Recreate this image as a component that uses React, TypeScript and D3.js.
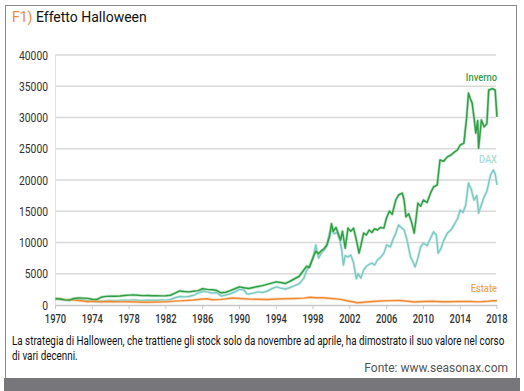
import { useEffect, useRef } from 'react';
import * as d3 from 'd3';

// [year, value]
const inverno: [number, number][] = [
  [1970.0, 1000], [1970.5, 950], [1971.0, 820], [1971.5, 780], [1972.0, 1050], [1972.5, 1120],
  [1973.0, 1100], [1973.5, 1060], [1974.0, 920], [1974.5, 880], [1975.0, 1250], [1975.5, 1380],
  [1976.0, 1420], [1976.5, 1400], [1977.0, 1450], [1977.5, 1520], [1978.0, 1580], [1978.5, 1620],
  [1979.0, 1550], [1979.5, 1500], [1980.0, 1520], [1980.5, 1480], [1981.0, 1500], [1981.5, 1460],
  [1982.0, 1480], [1982.5, 1560], [1983.0, 1900], [1983.5, 2250], [1984.0, 2150], [1984.5, 2100],
  [1985.0, 2200], [1985.5, 2300], [1986.0, 2600], [1986.5, 2500], [1987.0, 2450], [1987.5, 2350],
  [1988.0, 1950], [1988.5, 2050], [1989.0, 2300], [1989.5, 2600], [1990.0, 2900], [1990.5, 2750],
  [1991.0, 2650], [1991.5, 2800], [1992.0, 2950], [1992.5, 3100], [1993.0, 3300], [1993.5, 3500],
  [1994.0, 3700], [1994.5, 3600], [1995.0, 3450], [1995.5, 3800], [1996.0, 4200], [1996.5, 4600],
  [1997.0, 5600], [1997.3, 6200], [1997.6, 6000], [1998.0, 7600], [1998.3, 8600], [1998.6, 8200],
  [1998.9, 8700], [1999.2, 9000], [1999.5, 9600], [1999.8, 11000], [2000.0, 13000], [2000.2, 11800],
  [2000.5, 12400], [2000.8, 11200], [2001.0, 10400], [2001.2, 11800], [2001.5, 9100], [2001.8, 12300],
  [2002.1, 11800], [2002.4, 12300], [2002.7, 10500], [2003.0, 8300], [2003.2, 9500], [2003.5, 11500],
  [2003.8, 11200], [2004.1, 12000], [2004.4, 11600], [2004.7, 12200], [2005.0, 12000], [2005.3, 12400],
  [2005.7, 12300], [2006.0, 14000], [2006.3, 15000], [2006.6, 14500], [2007.0, 16800], [2007.3, 17600],
  [2007.7, 17900], [2007.9, 16800], [2008.1, 14100], [2008.4, 14600], [2008.7, 13300], [2009.0, 11500],
  [2009.2, 13800], [2009.4, 16300], [2009.7, 15800], [2010.0, 16800], [2010.4, 16400], [2010.8, 18000],
  [2011.1, 18900], [2011.5, 19200], [2011.8, 23200], [2012.2, 23000], [2012.6, 23700], [2013.0, 24000],
  [2013.4, 24500], [2013.7, 24800], [2014.0, 25600], [2014.4, 25900], [2014.7, 30000], [2014.9, 33900],
  [2015.1, 33000], [2015.3, 32300], [2015.5, 30000], [2015.7, 27500], [2015.9, 29500], [2016.0, 25100],
  [2016.3, 29600], [2016.6, 28500], [2016.9, 29000], [2017.1, 34400], [2017.5, 34600], [2017.8, 34400],
  [2018.0, 30100],
];

const dax: [number, number][] = [
  [1970.0, 950], [1970.5, 880], [1971.0, 800], [1971.5, 760], [1972.0, 880], [1972.5, 900],
  [1973.0, 820], [1973.5, 700], [1974.0, 580], [1974.5, 520], [1975.0, 620], [1975.5, 700],
  [1976.0, 720], [1976.5, 690], [1977.0, 720], [1977.5, 750], [1978.0, 780], [1978.5, 800],
  [1979.0, 760], [1979.5, 740], [1980.0, 760], [1980.5, 780], [1981.0, 760], [1981.5, 800],
  [1982.0, 780], [1982.5, 880], [1983.0, 1150], [1983.5, 1350], [1984.0, 1300], [1984.5, 1350],
  [1985.0, 1550], [1985.5, 1900], [1986.0, 2200], [1986.5, 2100], [1987.0, 1900], [1987.5, 2000],
  [1988.0, 1450], [1988.5, 1600], [1989.0, 1800], [1989.5, 2100], [1990.0, 2500], [1990.5, 2400],
  [1990.8, 1800], [1991.0, 1750], [1991.5, 1900], [1992.0, 2100], [1992.5, 2000], [1993.0, 2200],
  [1993.5, 2600], [1994.0, 2900], [1994.5, 2700], [1995.0, 2550], [1995.5, 2800], [1996.0, 3100],
  [1996.5, 3400], [1997.0, 4300], [1997.3, 5500], [1997.6, 6200], [1998.0, 7500], [1998.3, 9600],
  [1998.6, 7500], [1998.9, 8300], [1999.2, 8800], [1999.5, 9500], [1999.8, 11500], [2000.0, 12000],
  [2000.3, 11400], [2000.6, 11600], [2000.9, 10400], [2001.1, 9000], [2001.3, 6400], [2001.5, 7900],
  [2001.8, 7700], [2002.1, 8000], [2002.4, 6800], [2002.7, 4200], [2002.9, 5000], [2003.2, 4300],
  [2003.5, 5600], [2003.8, 6200], [2004.1, 6500], [2004.4, 6700], [2004.7, 6400], [2005.0, 7200],
  [2005.4, 7700], [2005.7, 8300], [2006.0, 9600], [2006.4, 9300], [2006.7, 10500], [2007.0, 11500],
  [2007.3, 12800], [2007.6, 12400], [2007.9, 12000], [2008.2, 10500], [2008.6, 7700], [2008.9, 6800],
  [2009.1, 6100], [2009.4, 7500], [2009.7, 9300], [2010.0, 9900], [2010.4, 9500], [2010.8, 10800],
  [2011.1, 11700], [2011.4, 11200], [2011.6, 8300], [2011.9, 9000], [2012.2, 10300], [2012.6, 11500],
  [2013.0, 12000], [2013.4, 13000], [2013.7, 13800], [2014.0, 15200], [2014.3, 14800], [2014.6, 16000],
  [2014.9, 19500], [2015.2, 18500], [2015.5, 16800], [2015.8, 17500], [2016.0, 14700], [2016.3, 16000],
  [2016.6, 17300], [2016.9, 18200], [2017.1, 19500], [2017.3, 20800], [2017.6, 21600], [2017.8, 21000],
  [2018.0, 19200],
];

const estate: [number, number][] = [
  [1970.0, 1070], [1971.0, 900], [1972.0, 800], [1973.0, 650], [1973.5, 530], [1974.0, 600],
  [1975.0, 520], [1976.0, 560], [1977.0, 500], [1978.0, 520], [1979.0, 480], [1980.0, 450],
  [1981.0, 470], [1982.0, 500], [1983.0, 620], [1984.0, 700], [1985.0, 800], [1985.7, 910],
  [1986.5, 1000], [1987.0, 850], [1988.0, 900], [1989.3, 1120], [1990.0, 1050], [1991.0, 950],
  [1991.9, 910], [1993.0, 880], [1994.0, 950], [1994.8, 1000], [1996.0, 1050], [1997.0, 1100],
  [1997.7, 1230], [1998.2, 1150], [1999.0, 1150], [2000.0, 1050], [2001.0, 900], [2001.7, 690],
  [2002.8, 370], [2003.5, 450], [2004.5, 560], [2005.3, 640], [2006.5, 700], [2007.5, 720],
  [2008.3, 600], [2009.0, 480], [2010.0, 550], [2011.0, 600], [2012.0, 520], [2012.6, 530],
  [2014.0, 560], [2015.0, 550], [2016.0, 500], [2017.0, 600], [2017.6, 690], [2018.0, 680],
];

const yTicks = [0, 5000, 10000, 15000, 20000, 25000, 30000, 35000, 40000];
const xTicks = [1970, 1974, 1978, 1982, 1986, 1990, 1994, 1998, 2002, 2006, 2010, 2014, 2018];

const captionLine1 = "La strategia di Halloween, che trattiene gli stock solo da novembre ad aprile, ha dimostrato il suo valore nel corso";
const captionLine2 = "di vari decenni.";

const sans = "'Roboto', 'Liberation Sans', sans-serif";

export default function App() {
  const ref = useRef<SVGSVGElement>(null);

  useEffect(() => {
    if (!ref.current) return;
    const svg = d3.select(ref.current);
    svg.selectAll('*').remove();

    const x = d3.scaleLinear().domain([1970, 2018]).range([55.5, 497]);
    const y = d3.scaleLinear().domain([0, 40000]).range([305, 55]);

    // frame
    svg.append('rect')
      .attr('x', 5.5).attr('y', 5.5)
      .attr('width', 511).attr('height', 373)
      .attr('fill', '#fff')
      .attr('stroke', '#8a8a8a');
    svg.append('rect')
      .attr('x', 4).attr('y', 378)
      .attr('width', 516).attr('height', 13)
      .attr('fill', '#77777b');

    // title
    const title = svg.append('text')
      .attr('x', 12).attr('y', 22)
      .style('font-family', sans)
      .style('font-size', '14px');
    title.append('tspan').attr('fill', '#f28a30').text('F1) ');
    title.append('tspan').attr('fill', '#111').text('Effetto Halloween');

    // gridlines
    svg.append('g')
      .selectAll('line')
      .data(yTicks.slice(1))
      .join('line')
      .attr('x1', 55).attr('x2', 496)
      .attr('y1', d => y(d)).attr('y2', d => y(d))
      .attr('stroke', '#d9d9d9')
      .attr('stroke-width', 1.5);

    // y axis line
    svg.append('line')
      .attr('x1', 55.5).attr('x2', 55.5)
      .attr('y1', y(40000)).attr('y2', y(0))
      .attr('stroke', '#dde4e4');

    // x axis
    svg.append('line')
      .attr('x1', 55).attr('x2', 497)
      .attr('y1', y(0) + 0.5).attr('y2', y(0) + 0.5)
      .attr('stroke', '#c8c8c8')
      .attr('stroke-width', 1.5);
    svg.append('g')
      .selectAll('line')
      .data(xTicks)
      .join('line')
      .attr('x1', d => x(d)).attr('x2', d => x(d))
      .attr('y1', y(0)).attr('y2', y(0) + 4)
      .attr('stroke', '#c8c8c8');

    // tick labels, horizontally condensed
    svg.append('g')
      .selectAll('text')
      .data(yTicks)
      .join('text')
      .attr('transform', d => `translate(48,${y(d) + 4.5}) scale(0.86,1)`)
      .attr('text-anchor', 'end')
      .attr('fill', '#333')
      .style('font-family', sans)
      .style('font-size', '12px')
      .text(d => String(d));

    svg.append('g')
      .selectAll('text')
      .data(xTicks)
      .join('text')
      .attr('transform', d => `translate(${x(d)},323) scale(0.78,1)`)
      .attr('text-anchor', 'middle')
      .attr('fill', '#333')
      .style('font-family', sans)
      .style('font-size', '12px')
      .style('font-weight', 500)
      .text(d => String(d));

    // series
    const line = d3.line<[number, number]>()
      .x(d => x(d[0]))
      .y(d => y(d[1]));

    const series = [
      { data: dax, color: '#7ccbc3', halo: '#b9e2de' },
      { data: estate, color: '#f08a32', halo: '#f8c79a' },
      { data: inverno, color: '#2f9e45', halo: '#8fcf9c' },
    ];

    series.forEach(s => {
      svg.append('path')
        .datum(s.data)
        .attr('d', line)
        .attr('fill', 'none')
        .attr('stroke', s.halo)
        .attr('stroke-width', 3)
        .attr('stroke-linejoin', 'round')
        .attr('opacity', 0.55);
      svg.append('path')
        .datum(s.data)
        .attr('d', line)
        .attr('fill', 'none')
        .attr('stroke', s.color)
        .attr('stroke-width', 1.5)
        .attr('stroke-linejoin', 'round');
    });

    // series labels
    const labels = [
      { text: 'Inverno', color: '#3a9a4c', yPos: 81 },
      { text: 'DAX', color: '#a9dcd7', yPos: 163 },
      { text: 'Estate', color: '#f4a45a', yPos: 292 },
    ];
    svg.append('g')
      .selectAll('text')
      .data(labels)
      .join('text')
      .attr('transform', d => `translate(497,${d.yPos}) scale(0.85,1)`)
      .attr('text-anchor', 'end')
      .attr('fill', d => d.color)
      .style('font-family', sans)
      .style('font-size', '11px')
      .style('font-weight', 500)
      .text(d => d.text);

    // caption, condensed to the reference width
    const cap = svg.append('g');
    const c1 = cap.append('text')
      .attr('fill', '#111')
      .style('font-family', sans)
      .style('font-size', '12px')
      .text(captionLine1);
    const natural = (c1.node() as SVGTextElement).getComputedTextLength() || 600;
    const k = 493 / natural;
    c1.attr('transform', `translate(12,345) scale(${k},1)`);
    cap.append('text')
      .attr('transform', `translate(12,360) scale(${k},1)`)
      .attr('fill', '#111')
      .style('font-family', sans)
      .style('font-size', '12px')
      .text(captionLine2);

    svg.append('text')
      .attr('x', 508).attr('y', 372)
      .attr('text-anchor', 'end')
      .attr('fill', '#555')
      .style('font-family', sans)
      .style('font-size', '12px')
      .text('Fonte: www.seasonax.com');
  }, []);

  return (
    <div style={{ position: 'absolute', top: 0, left: 0, width: 524, height: 391, background: '#fff' }}>
      <svg ref={ref} width={524} height={391} style={{ display: 'block' }}></svg>
    </div>
  );
}
